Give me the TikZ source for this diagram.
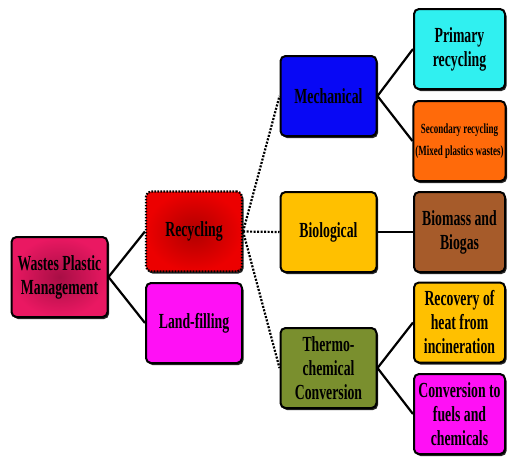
\documentclass[tikz,border=0pt]{standalone}
\usepackage{fontspec}
\setmainfont{Liberation Serif}[FakeStretch=0.64]
\usetikzlibrary{shadows}
\definecolor{wpmpink}{HTML}{EA1862}
\definecolor{wpmdark}{HTML}{A80E45}
\definecolor{recred}{HTML}{EC0000}
\definecolor{recdark}{HTML}{B00000}
\definecolor{landmag}{HTML}{FF10F5}
\definecolor{mechblue}{HTML}{0808F5}
\definecolor{primcyan}{HTML}{30F0F0}
\definecolor{secorange}{HTML}{FF6A0A}
\definecolor{biogold}{HTML}{FFC000}
\definecolor{biobrown}{HTML}{A65B2A}
\definecolor{thermolive}{HTML}{7A8F2E}
\tikzset{
  box/.style={draw=black, line width=2pt, rounded corners=5pt,
    minimum width=96pt, minimum height=80pt, inner sep=2pt, align=center,
    font=\fontsize{21.5}{24}\selectfont\bfseries,
    drop shadow={shadow xshift=1.5pt, shadow yshift=-2pt, opacity=0.85, fill=black}},
  leafbox/.style={box, minimum width=91pt},
  link/.style={line width=2.2pt},
  dotlink/.style={link, dash pattern=on 2pt off 1.5pt}
}
\begin{document}
\begin{tikzpicture}[x=1pt, y=-1pt]
    \useasboundingbox (0,0) rectangle (509,459);
    % first level
    \node[box, inner color=wpmdark, outer color=wpmpink] (wpm) at (59.5,277) {Wastes Plastic\\Management};
    \node[box, inner color=recdark, outer color=recred, line width=2.2pt, dash pattern=on 1.6pt off 1.4pt] (recyc) at (194,231.5) {Recycling};
    \node[box, fill=landmag] (land) at (194,323) {Land-filling};
    % second level
    \node[box, fill=mechblue] (mech) at (328.5,96) {Mechanical};
    \node[box, fill=biogold] (bio) at (328.5,232) {Biological};
    \node[box, fill=thermolive] (thermo) at (328.5,368) {Thermo-\\chemical\\Conversion};
    % third level
    \node[leafbox, fill=primcyan] (prim) at (459.5,49) {Primary\\recycling};
    \node[leafbox, fill=secorange, font=\fontsize{14}{22}\selectfont\bfseries] (sec) at (459.5,141) {Secondary recycling\\(Mixed plastics wastes)};
    \node[leafbox, fill=biobrown] (biomass) at (459.5,232) {Biomass and\\Biogas};
    \node[leafbox, fill=biogold] (recov) at (459.5,322.5) {Recovery of\\heat from\\incineration};
    \node[leafbox, fill=landmag] (conv) at (459.5,414) {Conversion to\\fuels and\\chemicals};
    % connectors
    \draw[link] (wpm.east) -- (recyc.west);
    \draw[link] (wpm.east) -- (land.west);
    \draw[dotlink] (recyc.east) -- (mech.west);
    \draw[dotlink] (recyc.east) -- (bio.west);
    \draw[dotlink] (recyc.east) -- (thermo.west);
    \draw[link] (mech.east) -- (prim.west);
    \draw[link] (mech.east) -- (sec.west);
    \draw[link] (bio.east) -- (biomass.west);
    \draw[link] (thermo.east) -- (recov.west);
    \draw[link] (thermo.east) -- (conv.west);
\end{tikzpicture}
\end{document}
